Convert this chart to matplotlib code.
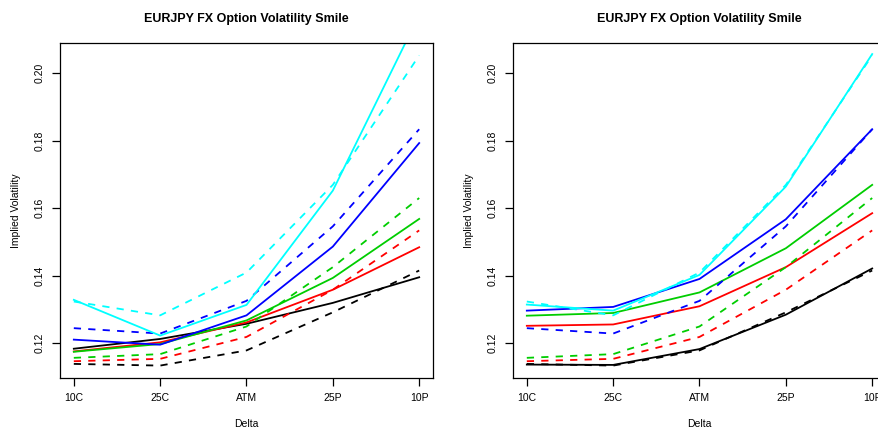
import matplotlib.pyplot as plt

plt.rcParams['font.family'] = ['Liberation Sans', 'DejaVu Sans']

deltas = ["10C", "25C", "ATM", "25P", "10P"]
colors = ["black", "red", "#00cd00", "blue", "cyan"]

# market quotes (dashed, same in both panels)
market = [
    [0.1138, 0.1133, 0.1178, 0.1291, 0.1415],
    [0.1146, 0.1153, 0.1218, 0.1358, 0.1534],
    [0.1156, 0.1167, 0.1249, 0.1425, 0.1630],
    [0.1244, 0.1228, 0.1325, 0.1546, 0.1834],
    [0.1323, 0.1282, 0.1409, 0.1669, 0.2053],
]

# model fit, left panel (solid)
fit_left = [
    [0.1183, 0.1212, 0.1257, 0.1319, 0.1395],
    [0.1175, 0.1202, 0.1261, 0.1358, 0.1484],
    [0.1174, 0.1197, 0.1267, 0.1393, 0.1568],
    [0.1210, 0.1195, 0.1282, 0.1486, 0.1793],
    [0.1328, 0.1222, 0.1313, 0.1652, 0.2173],
]

# model fit, right panel (solid)
fit_right = [
    [0.1136, 0.1135, 0.1182, 0.1284, 0.1421],
    [0.1251, 0.1255, 0.1309, 0.1425, 0.1585],
    [0.1281, 0.1289, 0.1350, 0.1481, 0.1669],
    [0.1296, 0.1307, 0.1390, 0.1567, 0.1834],
    [0.1314, 0.1296, 0.1402, 0.1664, 0.2057],
]

W, H = 879, 428
fig = plt.figure(figsize=(W / 100, H / 100), dpi=100)

ymin = min(min(r) for r in market)
ymax = max(max(r) for r in market)
pad = 0.04 * (ymax - ymin)
x = list(range(len(deltas)))
xpad = 0.04 * (len(deltas) - 1)

boxes = [(60, 433), (513, 886)]
top, bottom = 43, 378

for (l, r), fit in zip(boxes, [fit_left, fit_right]):
    ax = fig.add_axes([l / W, 1 - bottom / H, (r - l) / W, (bottom - top) / H])
    for c, m, f in zip(colors, market, fit):
        ax.plot(x, f, color=c, lw=1.3)
        ax.plot(x, m, color=c, lw=1.3, dashes=(4, 4))
    ax.set_xlim(-xpad, len(deltas) - 1 + xpad)
    ax.set_ylim(ymin - pad, ymax + pad)
    ax.set_xticks(x)
    ax.set_xticklabels(deltas)
    ax.set_yticks([0.12, 0.14, 0.16, 0.18, 0.20])
    ax.set_yticklabels(["0.12", "0.14", "0.16", "0.18", "0.20"], rotation=90, va="center")
    ax.tick_params(labelsize=7.5, length=6, width=0.9, pad=5)
    for s in ax.spines.values():
        s.set_linewidth(0.9)
    ax.set_title("EURJPY FX Option Volatility Smile", fontsize=9, fontweight="bold", pad=15)
    ax.set_xlabel("Delta", fontsize=7.5, labelpad=11)
    ax.set_ylabel("Implied Volatility", fontsize=7.5, labelpad=10)

fig.savefig("out.png", dpi=100)
